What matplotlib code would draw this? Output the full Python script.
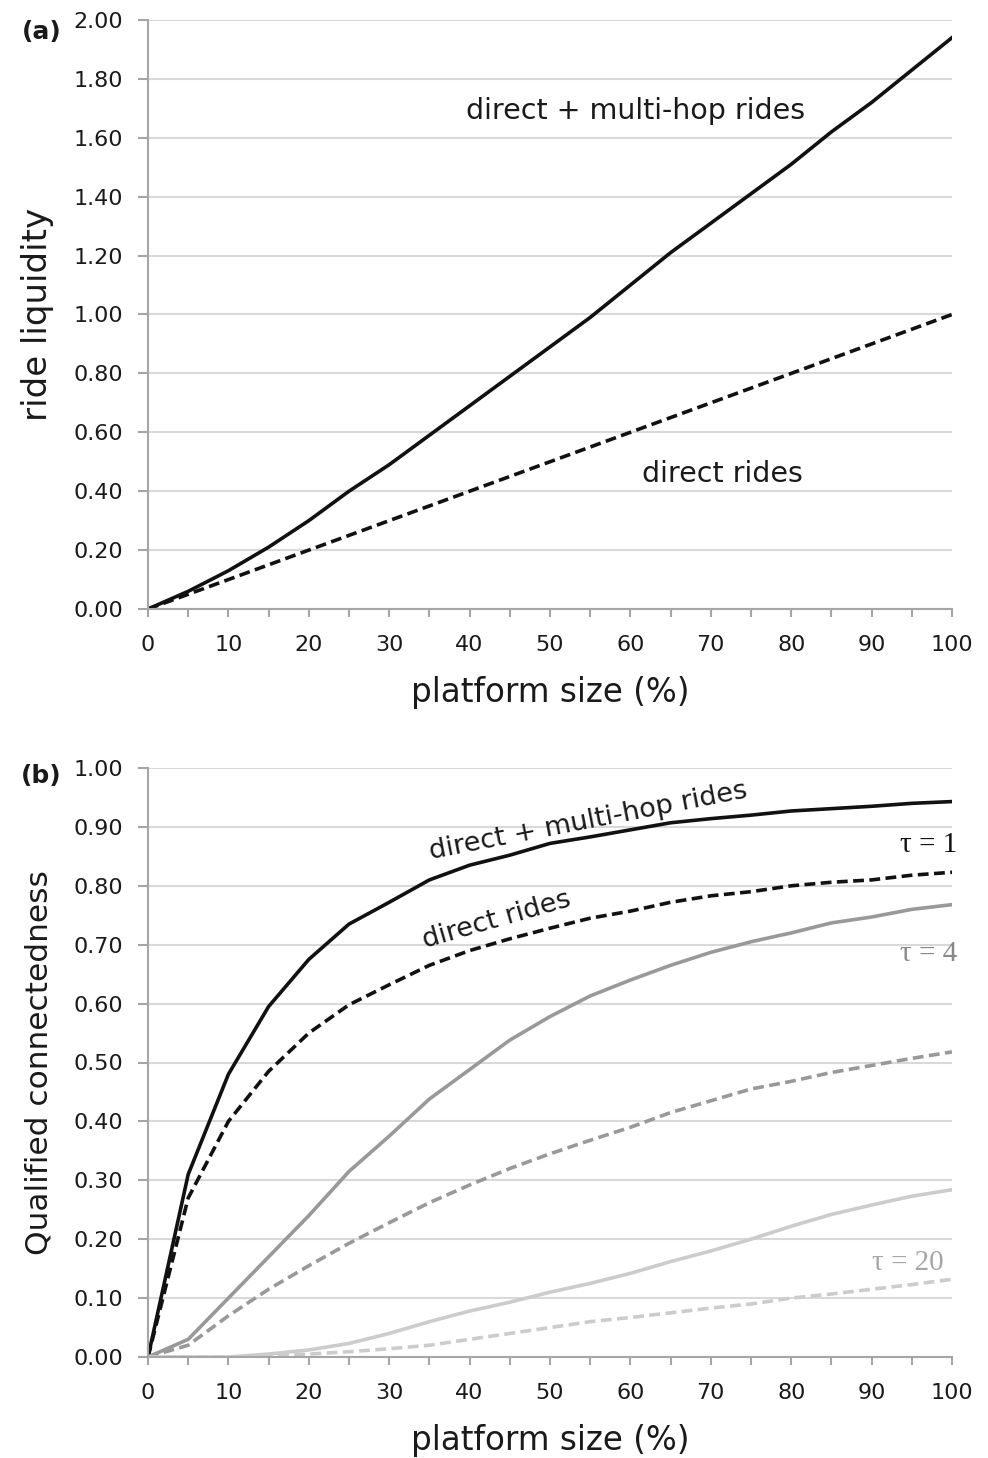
import matplotlib
matplotlib.use("Agg")
import matplotlib.pyplot as plt
import numpy as np

plt.rcParams['font.family'] = ['DejaVu Sans']

platform_size = [0, 5, 10, 15, 20, 25, 30, 35, 40, 45, 50, 55, 60, 65, 70, 75, 80, 85, 90, 95, 100]

# Panel (a): ride liquidity
liq_multi = [0, 0.06, 0.13, 0.21, 0.30, 0.40, 0.49, 0.59, 0.69, 0.79, 0.89, 0.99, 1.10, 1.21, 1.31, 1.41, 1.51, 1.62, 1.72, 1.83, 1.94]
liq_direct = [0, 0.05, 0.10, 0.15, 0.20, 0.25, 0.30, 0.35, 0.40, 0.45, 0.50, 0.55, 0.60, 0.65, 0.70, 0.75, 0.80, 0.85, 0.90, 0.95, 1.00]

# Panel (b): qualified connectedness
qc_t1_multi = [0, 0.31, 0.48, 0.595, 0.675, 0.735, 0.772, 0.81, 0.835, 0.852, 0.872, 0.883, 0.895, 0.907, 0.914, 0.92, 0.927, 0.931, 0.935, 0.94, 0.943]
qc_t1_direct = [0, 0.27, 0.40, 0.485, 0.55, 0.598, 0.632, 0.665, 0.69, 0.71, 0.728, 0.745, 0.757, 0.772, 0.783, 0.79, 0.80, 0.806, 0.81, 0.818, 0.823]
qc_t4_multi = [0, 0.03, 0.10, 0.17, 0.24, 0.315, 0.375, 0.438, 0.488, 0.538, 0.578, 0.613, 0.64, 0.665, 0.687, 0.705, 0.72, 0.737, 0.747, 0.76, 0.768]
qc_t4_direct = [0, 0.02, 0.07, 0.115, 0.155, 0.193, 0.228, 0.262, 0.292, 0.32, 0.345, 0.368, 0.39, 0.415, 0.435, 0.455, 0.468, 0.483, 0.495, 0.507, 0.518]
qc_t20_multi = [0, 0, 0, 0.005, 0.012, 0.023, 0.04, 0.06, 0.078, 0.093, 0.11, 0.125, 0.142, 0.162, 0.18, 0.2, 0.222, 0.242, 0.258, 0.273, 0.284]
qc_t20_direct = [0, 0, 0, 0.002, 0.005, 0.009, 0.014, 0.02, 0.03, 0.04, 0.05, 0.06, 0.067, 0.075, 0.083, 0.09, 0.10, 0.107, 0.115, 0.123, 0.132]

W, H = 988, 1458
fig = plt.figure(figsize=(W / 100, H / 100), dpi=100)

def frac(x0, y0, x1, y1):
    return [x0 / W, 1 - y1 / H, (x1 - x0) / W, (y1 - y0) / H]

ax1 = fig.add_axes(frac(148, 20, 952, 609))
ax2 = fig.add_axes(frac(148, 768, 952, 1357))

SPINE = '#a6a6a6'
GRID = '#d9d9d9'
TXT = '#1a1a1a'

def style(ax, ymax, ystep):
    ax.set_xlim(0, 100)
    ax.set_ylim(0, ymax)
    ax.set_xticks(np.arange(0, 101, 10))
    ax.set_xticks(np.arange(0, 101, 5), minor=True)
    ax.set_yticks(np.arange(0, ymax + 1e-9, ystep))
    ax.set_yticklabels([f"{v:.2f}" for v in np.arange(0, ymax + 1e-9, ystep)])
    for s in ['top', 'right']:
        ax.spines[s].set_visible(False)
    for s in ['left', 'bottom']:
        ax.spines[s].set_color(SPINE)
        ax.spines[s].set_linewidth(1.5)
    ax.grid(axis='y', color=GRID, linewidth=1.5)
    ax.set_axisbelow(True)
    ax.tick_params(axis='both', which='both', direction='out', color=SPINE, width=1.5,
                   labelsize=16, labelcolor=TXT)
    ax.tick_params(axis='x', which='both', length=6, pad=13)
    ax.tick_params(axis='y', which='major', length=7, pad=11)
    ax.set_xlabel('platform size (%)', fontsize=23.5, color=TXT, labelpad=15)

dash = (3.0, 1.5)
LW = 2.6

# Panel (a)
style(ax1, 2.0, 0.2)
ax1.plot(platform_size, liq_multi, color='#111111', lw=LW)
ax1.plot(platform_size, liq_direct, color='#111111', lw=LW, linestyle=(0, dash))
ax1.set_ylabel('ride liquidity', fontsize=24.5, color=TXT, labelpad=14)
ax1.text(39.5, 1.665, 'direct + multi-hop rides', fontsize=20.5, color=TXT, va='baseline')
ax1.text(61.5, 0.43, 'direct rides', fontsize=20.5, color=TXT, va='baseline')
fig.text(22 / W, 1 - 32 / H, '(a)', fontsize=18, fontweight='bold', color=TXT, va='center')

# Panel (b)
style(ax2, 1.0, 0.1)
ax2.plot(platform_size, qc_t1_multi, color='#111111', lw=LW)
ax2.plot(platform_size, qc_t1_direct, color='#111111', lw=LW, linestyle=(0, dash))
ax2.plot(platform_size, qc_t4_multi, color='#999999', lw=LW)
ax2.plot(platform_size, qc_t4_direct, color='#999999', lw=LW, linestyle=(0, dash))
ax2.plot(platform_size, qc_t20_multi, color='#cccccc', lw=LW)
ax2.plot(platform_size, qc_t20_direct, color='#cccccc', lw=LW, linestyle=(0, dash))
ax2.set_ylabel('Qualified connectedness', fontsize=22.5, color=TXT, labelpad=14)
ax2.text(35.2, 0.845, 'direct + multi-hop rides', fontsize=19.5, color=TXT, rotation=11,
         rotation_mode='anchor', ha='left', va='baseline')
ax2.text(34.5, 0.695, 'direct rides', fontsize=19.5, color=TXT, rotation=16,
         rotation_mode='anchor', ha='left', va='baseline')
serif = ['Liberation Serif', 'DejaVu Serif']
ax2.text(100.6, 0.87, 'τ = 1', fontsize=21, color='#111111', family=serif, ha='right', va='center')
ax2.text(100.6, 0.685, 'τ = 4', fontsize=21, color='#888888', family=serif, ha='right', va='center')
ax2.text(99.0, 0.16, 'τ = 20', fontsize=21, color='#a6a6a6', family=serif, ha='right', va='center')
fig.text(21 / W, 1 - 776 / H, '(b)', fontsize=18, fontweight='bold', color=TXT, va='center')

fig.savefig('out.png', dpi=100)
